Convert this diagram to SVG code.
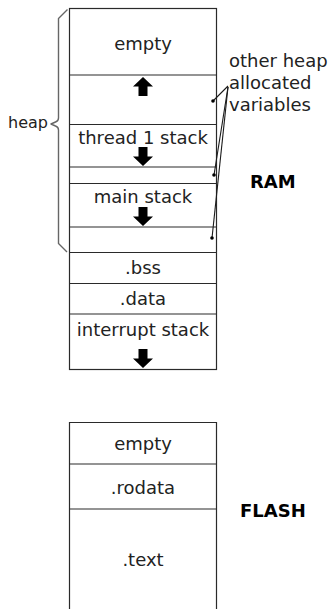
<svg xmlns="http://www.w3.org/2000/svg" width="332" height="609" viewBox="0 0 332 609">
  <style>
    .box { fill: none; stroke: #2a2a2a; stroke-width: 1.2; }
    .div { stroke: #2a2a2a; stroke-width: 1.2; }
    .lbl { font-family: "DejaVu Sans", "Bitstream Vera Sans", sans-serif; font-size: 18px; fill: #222; text-anchor: middle; }
    .side { font-family: "DejaVu Sans", "Bitstream Vera Sans", sans-serif; font-size: 18px; fill: #222; }
    .title { font-family: "DejaVu Sans", "Bitstream Vera Sans", sans-serif; font-size: 18px; font-weight: bold; fill: #000; }
    .arrow { fill: #000; }
    .lead { fill: none; stroke: #1a1a1a; stroke-width: 1.1; }
    .brace { fill: none; stroke: #666; stroke-width: 1.4; stroke-linejoin: round; }
  </style>
  <defs>
    <!-- block arrow pointing down, tip at origin -->
    <path id="arrowDown" d="M-4.5,-19 H4.5 V-9.5 H10 L0,0 L-10,-9.5 H-4.5 Z"/>
  </defs>

  <!-- RAM column -->
  <g id="ram">
    <rect class="box" x="69.5" y="8.5" width="147" height="361"/>
    <g id="ram-empty">
      <text class="lbl" x="143" y="49.5">empty</text>
    </g>
    <g id="heap-growth">
      <line class="div" x1="69.5" y1="75" x2="216.5" y2="75"/>
      <use href="#arrowDown" class="arrow" transform="translate(143,77) rotate(180)"/>
    </g>
    <g id="thread1-stack">
      <line class="div" x1="69.5" y1="124.5" x2="216.5" y2="124.5"/>
      <text class="lbl" x="143" y="144">thread 1 stack</text>
      <use href="#arrowDown" class="arrow" x="143" y="166"/>
      <line class="div" x1="69.5" y1="167" x2="216.5" y2="167"/>
    </g>
    <g id="main-stack">
      <line class="div" x1="69.5" y1="183.5" x2="216.5" y2="183.5"/>
      <text class="lbl" x="143" y="203">main stack</text>
      <use href="#arrowDown" class="arrow" x="143" y="226"/>
      <line class="div" x1="69.5" y1="227" x2="216.5" y2="227"/>
    </g>
    <g id="bss">
      <line class="div" x1="69.5" y1="252.5" x2="216.5" y2="252.5"/>
      <text class="lbl" x="143" y="274">.bss</text>
    </g>
    <g id="data">
      <line class="div" x1="69.5" y1="283.5" x2="216.5" y2="283.5"/>
      <text class="lbl" x="143" y="305">.data</text>
    </g>
    <g id="interrupt-stack">
      <line class="div" x1="69.5" y1="314" x2="216.5" y2="314"/>
      <text class="lbl" x="143" y="336">interrupt stack</text>
      <use href="#arrowDown" class="arrow" x="143" y="368"/>
    </g>
    <text class="title" x="250" y="188">RAM</text>
  </g>

  <!-- heap brace and label -->
  <g id="heap">
    <path class="brace" d="M67.5,9.5 L58.5,18.5 V118 Q58.5,121 55.5,122 L51,124 L55.5,126 Q58.5,127 58.5,130 V243.5 L67,252"/>
    <text class="side" x="8" y="128" style="font-size:16px">heap</text>
  </g>

  <!-- heap variables callout -->
  <g id="heap-vars">
    <text class="side" x="229" y="67">other heap</text>
    <text class="side" x="229" y="89">allocated</text>
    <text class="side" x="229" y="111">variables</text>
  </g>

  <g id="connectors">
    <path class="lead" d="M213,101 L228,86"/>
    <path class="lead" d="M228,87 L214,175"/>
    <path class="lead" d="M228,87 L212,238"/>
    <circle cx="213" cy="101" r="1.8" fill="#000"/>
    <circle cx="214" cy="175" r="1.8" fill="#000"/>
    <circle cx="212" cy="238" r="1.8" fill="#000"/>
  </g>

  <!-- FLASH column -->
  <g id="flash">
    <path class="box" d="M69.5,609 V422.5 H216.5 V609"/>
    <g id="flash-empty">
      <text class="lbl" x="143" y="450">empty</text>
    </g>
    <g id="rodata">
      <line class="div" x1="69.5" y1="464" x2="216.5" y2="464"/>
      <text class="lbl" x="143" y="494">.rodata</text>
    </g>
    <g id="text-section">
      <line class="div" x1="69.5" y1="509" x2="216.5" y2="509"/>
      <text class="lbl" x="143" y="566">.text</text>
    </g>
    <text class="title" x="240" y="517">FLASH</text>
  </g>
</svg>
